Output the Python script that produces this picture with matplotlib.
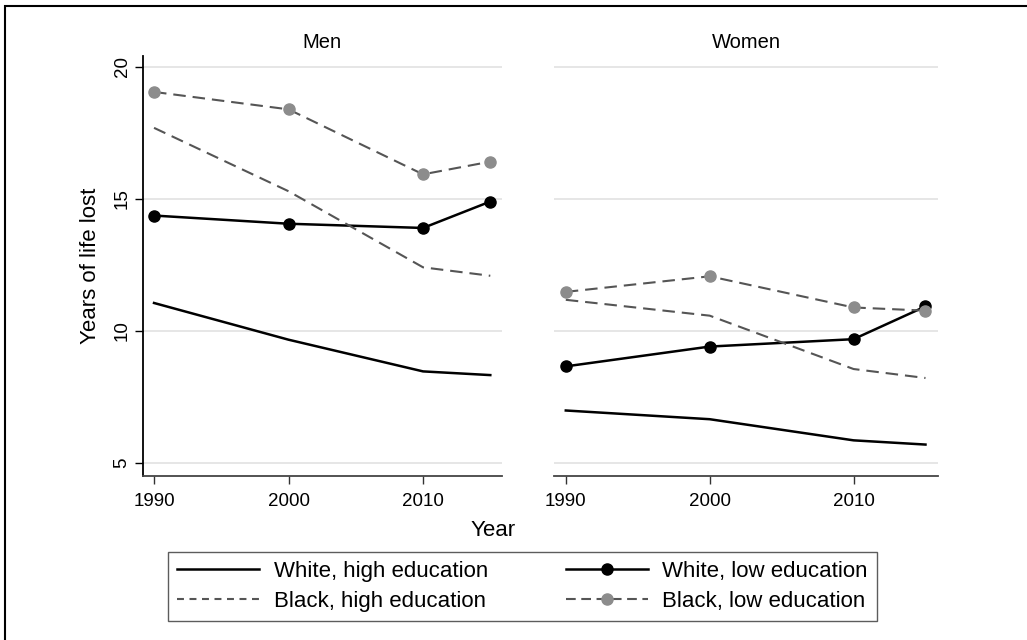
import numpy as np
import matplotlib
matplotlib.use("Agg")
import matplotlib.pyplot as plt
from matplotlib.patches import Rectangle
from matplotlib.lines import Line2D

plt.rcParams['font.family'] = ['Liberation Sans', 'DejaVu Sans']
plt.rcParams['lines.scale_dashes'] = False

years = [1990, 2000, 2010, 2015]
panels = ["Men", "Women"]

# years of life lost
men_white_high = [11.05, 9.66, 8.46, 8.32]
men_white_low = [14.36, 14.05, 13.89, 14.89]
men_black_high = [17.68, 15.28, 12.40, 12.08]
men_black_low = [19.04, 18.38, 15.92, 16.40]

women_white_high = [6.98, 6.65, 5.85, 5.69]
women_white_low = [8.65, 9.40, 9.68, 10.92]
women_black_high = [11.17, 10.57, 8.55, 8.21]
women_black_low = [11.47, 12.06, 10.88, 10.76]

labels = ["White, high education", "White, low education",
          "Black, high education", "Black, low education"]
y_ticks = [5, 10, 15, 20]
x_ticks = [1990, 2000, 2010]

W, H = 1027, 640
fig = plt.figure(figsize=(W / 100, H / 100), dpi=100)


def px_axes(left, top, right, bottom):
    return fig.add_axes([left / W, 1 - bottom / H, (right - left) / W, (bottom - top) / H])


ax_men = px_axes(143, 56, 502, 476)
ax_women = px_axes(554, 56, 938, 476)

dash = (9, 5)
data = {
    "Men": (men_white_high, men_white_low, men_black_high, men_black_low),
    "Women": (women_white_high, women_white_low, women_black_high, women_black_low),
}

for ax, name in zip([ax_men, ax_women], panels):
    wh, wl, bh, bl = data[name]
    for yv in y_ticks:
        ax.axhline(yv, color='#e4e4e4', lw=1.3, zorder=0)
    ax.plot(years, wh, color='black', lw=1.8)
    ax.plot(years, wl, color='black', lw=1.8, marker='o', ms=8)
    ax.plot(years, bh, color='#555555', lw=1.5, dashes=dash)
    ax.plot(years, bl, color='#555555', lw=1.5, dashes=dash,
            marker='o', ms=8, mfc='#8c8c8c', mec='#8c8c8c')
    ax.set_xlim(1989.18, 2015.87)
    ax.set_ylim(4.5, 20.4)
    ax.set_xticks(x_ticks)
    ax.set_xticklabels([str(x) for x in x_ticks], fontsize=13.5)
    ax.tick_params(axis='x', length=6, width=1, color='#333333', pad=6)
    for s in ['top', 'right']:
        ax.spines[s].set_visible(False)
    ax.spines['bottom'].set_color('#444444')
    ax.spines['bottom'].set_linewidth(1.3)
    ax.set_facecolor('none')

ax_men.set_yticks(y_ticks)
ax_men.set_yticklabels([str(v) for v in y_ticks], fontsize=13.5, rotation=90, va='center')
ax_men.tick_params(axis='y', length=6, width=1, pad=3)
ax_men.spines['left'].set_linewidth(1.3)
ax_women.spines['left'].set_visible(False)
ax_women.set_yticks([])

fig.text(322 / W, 1 - 43 / H, "Men", ha='center', va='center', fontsize=14.5)
fig.text(746 / W, 1 - 43 / H, "Women", ha='center', va='center', fontsize=14.5)
fig.text(91 / W, 1 - 266 / H, "Years of life lost", ha='center', va='center',
         rotation=90, fontsize=16)
fig.text(493 / W, 1 - 530 / H, "Year", ha='center', va='center', fontsize=16)

handles = [
    Line2D([], [], color='black', lw=1.8),
    Line2D([], [], color='black', lw=1.8, marker='o', ms=8),
    Line2D([], [], color='#555555', lw=1.5, dashes=(5, 4)),
    Line2D([], [], color='#555555', lw=1.5, dashes=(7, 4), marker='o', ms=8,
           mfc='#8c8c8c', mec='#8c8c8c'),
]
# legend fills column-wise, so order rows as high/black pairs per column
order = [0, 2, 1, 3]
leg = fig.legend([handles[i] for i in order], [labels[i] for i in order],
                 ncol=2, loc='center',
                 bbox_to_anchor=((169 + 876) / 2 / W, 1 - (550 + 623) / 2 / H),
                 fontsize=16, frameon=True, fancybox=False, edgecolor='#333333',
                 handlelength=3.7, handletextpad=0.65, columnspacing=3.5,
                 labelspacing=0.38, borderpad=0.42, borderaxespad=0)
leg.get_frame().set_linewidth(1.0)

fig.patches.append(Rectangle((5 / W, -0.1), 1.2, 1.1 - 6 / H, transform=fig.transFigure,
                             fill=False, edgecolor='black', lw=1.5))

fig.savefig("out.png", dpi=100)
